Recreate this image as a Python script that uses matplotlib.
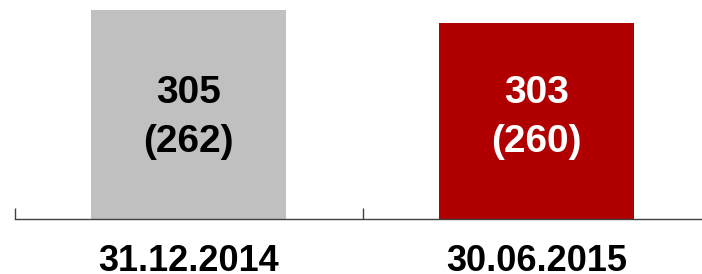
import matplotlib.pyplot as plt
import numpy as np

plt.rcParams['font.family'] = ['Liberation Sans', 'DejaVu Sans']

categories = ['31.12.2014', '30.06.2015']
bar_heights = [305, 286]
main_values = [305, 303]
sub_values = [262, 260]
colors = ['#C0C0C0', '#B00000']
text_colors = ['black', 'white']

fig = plt.figure(figsize=(7.02, 2.74), dpi=100)
ax = fig.add_axes([15 / 702, 55 / 274, 695 / 702, 219 / 274])

x = np.arange(len(categories))
ax.bar(x, bar_heights, width=0.56, color=colors)

tr = ax.get_xaxis_transform()
for xi, m, s, tc in zip(x, main_values, sub_values, text_colors):
    ax.text(xi, 0.530, f'{m}', transform=tr, ha='center', va='baseline',
            fontsize=28, fontweight='bold', color=tc)
    ax.text(xi, 0.306, f'({s})', transform=tr, ha='center', va='baseline',
            fontsize=28, fontweight='bold', color=tc)

# category labels below the axis
for xi, c in zip(x, categories):
    ax.text(xi, -0.237, c, transform=tr, ha='center', va='baseline',
            fontsize=26, fontweight='bold', color='black')

ax.set_xlim(-0.5, 1.5)
ax.set_ylim(0, 305 * 219 / 209)
for side in ['top', 'left', 'right']:
    ax.spines[side].set_visible(False)
ax.spines['bottom'].set_color('#404040')
ax.spines['bottom'].set_linewidth(1)
ax.set_yticks([])
ax.set_xticks([-0.5, 0.5, 1.5])
ax.set_xticklabels([])
ax.tick_params(axis='x', direction='in', length=8, color='#404040', width=1)

fig.savefig('out.png', dpi=100)
